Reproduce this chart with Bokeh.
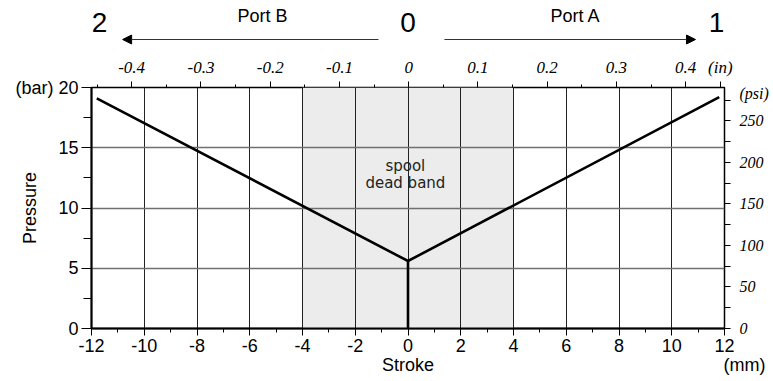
from bokeh.plotting import figure
from bokeh.layouts import column
from bokeh.models import (Range1d, LinearAxis, FixedTicker, BoxAnnotation, Label,
                          Arrow, NormalHead)
from bokeh.core.properties import value
from bokeh.embed import file_html
from bokeh.resources import INLINE

# ---- data ----
stroke_mm = [-11.8, 0.0, 11.8]
pressure_bar = [19.1, 5.6, 19.2]
crack_stroke = [0.0, 0.0]
crack_pressure = [0.0, 5.6]
deadband_mm = [-4.0, 4.0]

x_ticks = [-12, -10, -8, -6, -4, -2, 0, 2, 4, 6, 8, 10, 12]
x_minor = [-11, -9, -7, -5, -3, -1, 1, 3, 5, 7, 9, 11]
y_ticks = [0, 5, 10, 15, 20]
y_minor = [2.5, 7.5, 12.5, 17.5]
in_ticks = [-0.4, -0.3, -0.2, -0.1, 0, 0.1, 0.2, 0.3, 0.4, 0.45]
in_minor = [-0.45, -0.35, -0.25, -0.15, -0.05, 0.05, 0.15, 0.25, 0.35]
psi_ticks = [0, 50, 100, 150, 200, 250, 282.5]
psi_minor = [0, 25, 50, 75, 100, 125, 150, 175, 200, 225, 250, 275]
BAR_TO_PSI = 14.5038

port_digit_x = [-11.7, 0.0, 11.7]
port_digit_text = ["2", "0", "1"]
port_name_x = [-5.52, 6.35]
port_name_text = ["Port B", "Port A"]
arrow_b = [-1.12, -10.82]
arrow_a = [1.38, 10.9]
footer_ticks = [0, 12]
footer_text = ["Stroke", "\u00a0" * 8 + "(mm)"]

SANS = "Liberation Sans"
SERIF = "Liberation Serif"

# ---- layout (pixels) ----
W = 773
L_BORDER, R_BORDER = 91, 49
HEAD_H, MAIN_H = 54, 326

x_range = Range1d(-12, 12)

# ---- header ----
head = figure(width=W, height=HEAD_H, output_backend="svg", toolbar_location=None,
              x_range=x_range, y_range=Range1d(HEAD_H, 0), x_axis_type=None, y_axis_type=None,
              min_border_left=L_BORDER, min_border_right=R_BORDER,
              min_border_top=0, min_border_bottom=0)
head.outline_line_color = None
head.text(x=port_digit_x, y=[22] * 3, text=port_digit_text, text_font=value(SANS),
          text_font_size="28px", text_align="center", text_baseline="middle", text_color="black")
head.text(x=port_name_x, y=[15] * 2, text=port_name_text, text_font=value(SANS),
          text_font_size="18px", text_align="center", text_baseline="middle", text_color="black")
for a in (arrow_b, arrow_a):
    head.add_layout(Arrow(end=NormalHead(size=9, fill_color="black", line_color="black"),
                          x_start=a[0], y_start=39, x_end=a[1], y_end=39,
                          line_color="#333333", line_width=1.2))

# ---- main ----
p = figure(width=W, height=MAIN_H, output_backend="svg", toolbar_location=None,
           x_range=x_range, y_range=Range1d(0, 20),
           min_border_left=L_BORDER, min_border_right=R_BORDER,
           min_border_top=33, min_border_bottom=52)
p.background_fill_color = "white"
p.border_fill_color = "white"
p.outline_line_color = "black"
p.outline_line_width = 1.5

p.extra_x_ranges = {"inch": Range1d(-0.458, 0.456)}
p.extra_y_ranges = {"psi": Range1d(0, 20 * BAR_TO_PSI)}

p.add_layout(BoxAnnotation(left=deadband_mm[0], right=deadband_mm[1],
                           fill_color="#ebeceb", fill_alpha=1.0, line_alpha=0, level="image"))

xa = p.xaxis[0]
xa.ticker = FixedTicker(ticks=x_ticks, minor_ticks=x_minor)
xa.major_label_overrides = {t: f"{t:g}" for t in x_ticks}
xa.axis_line_width = 2
xa.major_tick_out, xa.major_tick_in = 7, 0
xa.minor_tick_out, xa.minor_tick_in = 4, 0
xa.major_label_standoff = 3
xa.major_label_text_font = SANS
xa.major_label_text_font_size = "18px"
xa.major_label_text_color = "black"

# second row below: "Stroke" and the unit
fa = LinearAxis(ticker=FixedTicker(ticks=footer_ticks, minor_ticks=[]))
fa.major_label_overrides = dict(zip(footer_ticks, footer_text))
fa.axis_line_alpha = 0
fa.major_tick_out, fa.major_tick_in = 0, 0
fa.minor_tick_out, fa.minor_tick_in = 0, 0
fa.major_label_standoff = 0
fa.major_label_text_font = SANS
fa.major_label_text_font_size = "18px"
fa.major_label_text_color = "black"
p.add_layout(fa, "below")

ya = p.yaxis[0]
ya.ticker = FixedTicker(ticks=y_ticks, minor_ticks=y_minor)
ya.major_label_overrides = {t: f"{t:g}" for t in y_ticks}
ya.major_label_overrides[20] = "(bar) 20"
ya.axis_line_width = 2
ya.major_tick_out, ya.major_tick_in = 10, 0
ya.minor_tick_out, ya.minor_tick_in = 8, 0
ya.major_label_standoff = 3
ya.major_label_text_font = SANS
ya.major_label_text_font_size = "18px"
ya.major_label_text_color = "black"
ya.axis_label = "Pressure"
ya.axis_label_text_font = SANS
ya.axis_label_text_font_size = "18px"
ya.axis_label_text_font_style = "normal"
ya.axis_label_text_color = "black"
ya.axis_label_standoff = -28

ta = LinearAxis(x_range_name="inch", ticker=FixedTicker(ticks=in_ticks, minor_ticks=in_minor))
ta.major_label_overrides = {t: f"{t:g}" for t in in_ticks}
ta.major_label_overrides[0.45] = "(in)"
ta.major_tick_out, ta.major_tick_in = 6, 0
ta.minor_tick_out, ta.minor_tick_in = 3, 0
ta.axis_line_alpha = 0
ta.major_label_standoff = 5
ta.major_label_text_font = SERIF
ta.major_label_text_font_style = "italic"
ta.major_label_text_font_size = "17px"
ta.major_label_text_color = "black"
p.add_layout(ta, "above")

ra = LinearAxis(y_range_name="psi", ticker=FixedTicker(ticks=psi_ticks, minor_ticks=psi_minor))
ra.major_label_overrides = {t: f"{t:g}" for t in psi_ticks}
ra.major_label_overrides[282.5] = "(psi)"
ra.major_tick_out, ra.major_tick_in = 0, 0
ra.minor_tick_out, ra.minor_tick_in = 6, 0
ra.axis_line_alpha = 0
ra.major_label_standoff = 9
ra.major_label_text_font = SERIF
ra.major_label_text_font_style = "italic"
ra.major_label_text_font_size = "16px"
ra.major_label_text_color = "black"
p.add_layout(ra, "right")

p.xgrid.ticker = FixedTicker(ticks=x_ticks)
p.xgrid.grid_line_color = "#222222"
p.xgrid.grid_line_width = 1
p.ygrid.ticker = FixedTicker(ticks=y_ticks)
p.ygrid.grid_line_color = "#707070"
p.ygrid.grid_line_width = 1.5

p.line(stroke_mm, pressure_bar, line_color="black", line_width=2.6, line_join="miter")
p.line(crack_stroke, crack_pressure, line_color="black", line_width=2.6)

p.add_layout(Label(x=-0.1, y=13.5, text="spool", text_align="center", text_baseline="middle",
                   text_font="DejaVu Sans", text_font_size="15px", text_color="#222222"))
p.add_layout(Label(x=-0.1, y=12.1, text="dead band", text_align="center", text_baseline="middle",
                   text_font="DejaVu Sans", text_font_size="15px", text_color="#222222"))

open("out.html", "w").write(file_html(column(head, p, spacing=0), INLINE))
